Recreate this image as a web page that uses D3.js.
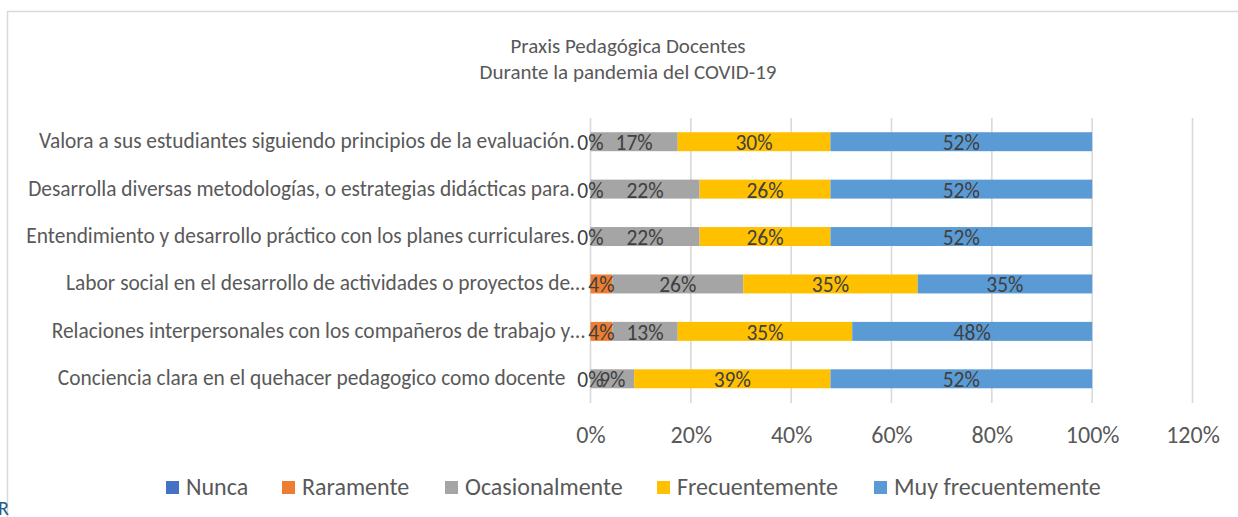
<!DOCTYPE html>
<html>
<head>
<meta charset="utf-8">
<script src="https://cdn.jsdelivr.net/npm/d3@7"></script>
<style>
  html, body { margin: 0; padding: 0; background: #ffffff; }
  svg { display: block; }
  text { font-family: Carlito, Lato, "Open Sans", sans-serif; }
</style>
</head>
<body>
<svg id="chart" width="1238" height="517"></svg>
<script>
// Survey items, listed top to bottom
const categories = [
  "Valora a sus estudiantes siguiendo principios de la evaluación.",
  "Desarrolla diversas metodologías, o estrategias didácticas para.",
  "Entendimiento y desarrollo práctico con los planes curriculares.",
  "Labor social en el desarrollo de actividades o proyectos de…",
  "Relaciones interpersonales con los compañeros de trabajo y…",
  "Conciencia clara en el quehacer pedagogico como docente  "
];

// Share of answers per frequency level (fractions of 1); null = no answer recorded
const nunca             = [0,      0,      0,      null,   null,   0     ];
const raramente         = [null,   null,   null,   0.0435, 0.0435, null  ];
const ocasionalmente    = [0.1739, 0.2174, 0.2174, 0.2609, 0.1304, 0.0870];
const frecuentemente    = [0.3043, 0.2609, 0.2609, 0.3478, 0.3478, 0.3913];
const muyFrecuentemente = [0.5217, 0.5217, 0.5217, 0.3478, 0.4783, 0.5217];

const seriesNames = ["Nunca", "Raramente", "Ocasionalmente", "Frecuentemente", "Muy frecuentemente"];
const seriesValues = [nunca, raramente, ocasionalmente, frecuentemente, muyFrecuentemente];
const seriesColors = ["#4472c4", "#ed7d31", "#a5a5a5", "#ffc000", "#5b9bd5"];

const xTicks = [0, 0.2, 0.4, 0.6, 0.8, 1.0, 1.2];

const titleLines = ["Praxis Pedagógica Docentes", "Durante la pandemia del COVID-19"];

const svg = d3.select("#chart");
const textColor = "#595959";
const gridColor = "#d9d9d9";
const fontStack = "Carlito, Lato, 'Open Sans', sans-serif";

// Chart frame
svg.append("rect")
  .attr("x", 7.5).attr("y", 11.5)
  .attr("width", 1400).attr("height", 700)
  .attr("fill", "#ffffff")
  .attr("stroke", gridColor)
  .attr("stroke-width", 1.5);

// Stray letter at the bottom-left edge, partly outside the page
svg.append("text")
  .attr("x", -2).attr("y", 515)
  .attr("font-size", 20)
  .attr("fill", "#2b5b8c")
  .text("R");

// Title
svg.append("g").selectAll("text")
  .data(titleLines)
  .join("text")
  .attr("x", 628)
  .attr("y", (d, i) => 53 + i * 26)
  .attr("text-anchor", "middle")
  .attr("font-size", 21)
  .attr("fill", textColor)
  .text(d => d);

// Scales
const x = d3.scaleLinear().domain([0, 1.2]).range([590.5, 1192.5]);
const y = d3.scaleBand().domain(categories).range([118, 402.5])
  .paddingInner(0.6).paddingOuter(0.3);

// Vertical gridlines
svg.append("g").selectAll("line")
  .data(xTicks)
  .join("line")
  .attr("x1", d => x(d)).attr("x2", d => x(d))
  .attr("y1", 118).attr("y2", 403)
  .attr("stroke", gridColor)
  .attr("stroke-width", 1.6);

// X tick labels
const xAxis = d3.axisBottom(x).tickValues(xTicks).tickFormat(d3.format(".0%")).tickSize(0).tickPadding(0);
const xg = svg.append("g").call(xAxis);
xg.select(".domain").remove();
xg.selectAll("text")
  .attr("y", 443)
  .attr("dy", 0)
  .attr("font-size", 24)
  .attr("fill", textColor)
  .style("font-family", fontStack);

// Category labels (truncated ones carry their ellipsis a little further right)
const yAxis = d3.axisLeft(y).tickSize(0).tickPadding(0);
const yg = svg.append("g").attr("transform", "translate(575,0)").call(yAxis);
yg.select(".domain").remove();
yg.selectAll("text")
  .attr("font-size", 21.4)
  .attr("fill", textColor)
  .attr("dy", "0.3em")
  .attr("x", d => d.endsWith("…") ? 10 : 0)
  .style("white-space", "pre")
  .style("font-family", fontStack);

// Stacked bars
const rows = categories.map((c, i) => {
  const r = { category: c };
  seriesNames.forEach((s, k) => { r[s] = seriesValues[k][i]; });
  return r;
});
const stacked = d3.stack().keys(seriesNames).value((d, key) => d[key] == null ? 0 : d[key])(rows);

const barLayer = svg.append("g");
stacked.forEach((layer, k) => {
  barLayer.append("g")
    .attr("fill", seriesColors[k])
    .selectAll("rect")
    .data(layer)
    .join("rect")
    .attr("x", d => x(d[0]))
    .attr("y", d => y(d.data.category))
    .attr("width", d => x(d[1]) - x(d[0]))
    .attr("height", y.bandwidth());
});

// Value labels centred on each segment
const pct = d3.format(".0%");
const labelLayer = svg.append("g");
stacked.forEach((layer) => {
  labelLayer.append("g")
    .selectAll("text")
    .data(layer.filter(d => d.data[layer.key] != null))
    .join("text")
    .attr("x", d => x((d[0] + d[1]) / 2))
    .attr("y", d => y(d.data.category) + y.bandwidth() / 2)
    .attr("dy", "0.39em")
    .attr("text-anchor", "middle")
    .attr("font-size", 21.5)
    .attr("fill", "#404040")
    .text(d => pct(d.data[layer.key]));
});

// Legend
const legendX = [166, 282, 445, 657, 874];
const legend = svg.append("g");
seriesNames.forEach((name, k) => {
  const g = legend.append("g").attr("transform", `translate(${legendX[k]},0)`);
  g.append("rect")
    .attr("x", 0).attr("y", 481)
    .attr("width", 13).attr("height", 13)
    .attr("fill", seriesColors[k]);
  g.append("text")
    .attr("x", 20).attr("y", 495)
    .attr("font-size", 24)
    .attr("fill", textColor)
    .text(name);
});
</script>
</body>
</html>
